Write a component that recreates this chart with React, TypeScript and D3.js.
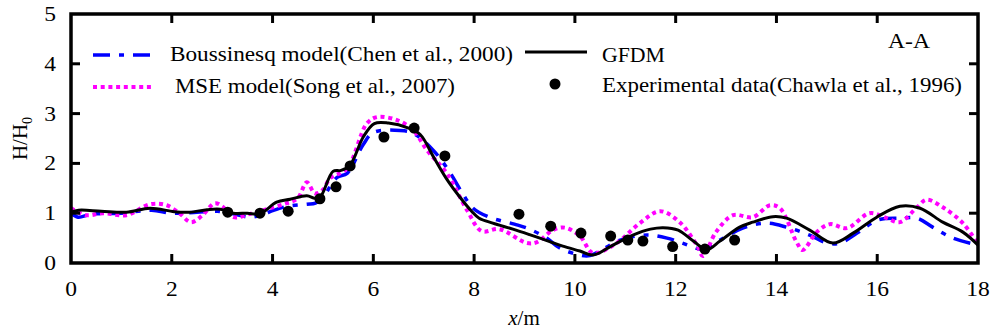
import React from "react";
import * as d3 from "d3";

const xTicks = [0, 2, 4, 6, 8, 10, 12, 14, 16, 18];
const yTicks = [0, 1, 2, 3, 4, 5];

const gfdm: [number, number][] = [
  [0, 1.02], [0.15, 1.06], [0.6, 1.04], [1.1, 1.02], [1.57, 1.1], [2.05, 1.03], [2.35, 1.02],
  [2.7, 1.07], [2.96, 1.08], [3.22, 1.0], [3.5, 1.0], [3.75, 0.99], [4.08, 1.22], [4.35, 1.28],
  [4.68, 1.35], [4.84, 1.3], [4.95, 1.33], [5.2, 1.84], [5.36, 1.86], [5.54, 1.97], [5.8, 2.53],
  [6.02, 2.8], [6.3, 2.81], [6.7, 2.71], [6.93, 2.58], [7.2, 2.12], [7.46, 1.68], [7.72, 1.32],
  [7.95, 1.04], [8.1, 0.9], [8.37, 0.8], [8.77, 0.68], [9.1, 0.57], [9.5, 0.43], [9.76, 0.34],
  [10.1, 0.24], [10.36, 0.16], [10.72, 0.34], [11.15, 0.56], [11.5, 0.68], [11.75, 0.71],
  [12.05, 0.66], [12.35, 0.44], [12.62, 0.27], [12.88, 0.44], [13.27, 0.72], [13.53, 0.82],
  [13.93, 0.93], [14.2, 0.9], [14.66, 0.66], [15.12, 0.4], [15.52, 0.6], [15.99, 0.92],
  [16.45, 1.14], [16.85, 1.1], [17.3, 0.82], [17.7, 0.62], [18, 0.36],
];

const boussinesq: [number, number][] = [
  [0, 1.0], [0.14, 0.92], [0.4, 0.98], [1.0, 1.0], [1.6, 1.06], [2.0, 1.0], [2.5, 1.02],
  [2.9, 1.04], [3.3, 0.97], [3.55, 0.92], [3.8, 0.97], [4.0, 1.05], [4.3, 1.14], [4.68, 1.18],
  [4.85, 1.2], [5.0, 1.32], [5.28, 1.72], [5.48, 1.8], [5.8, 2.38], [6.0, 2.62], [6.53, 2.66],
  [6.8, 2.6], [7.2, 2.25], [7.5, 1.85], [7.78, 1.38], [7.98, 1.1], [8.3, 0.92], [8.8, 0.78],
  [9.1, 0.68], [9.44, 0.5], [9.7, 0.3], [10.1, 0.16], [10.3, 0.15], [10.9, 0.46], [11.43, 0.56],
  [11.83, 0.5], [12.35, 0.32], [12.5, 0.28], [12.88, 0.46], [13.33, 0.7], [13.8, 0.8],
  [14.2, 0.72], [14.66, 0.56], [15.0, 0.4], [15.26, 0.4], [15.6, 0.6], [16.0, 0.86],
  [16.45, 0.9], [16.79, 0.9], [17.1, 0.72], [17.5, 0.5], [18, 0.36],
];

const mse: [number, number][] = [
  [0, 1.1], [0.3, 0.96], [0.64, 1.0], [1.1, 0.96], [1.57, 1.18], [1.9, 1.16], [2.15, 1.0],
  [2.38, 0.82], [2.6, 0.95], [2.85, 1.2], [3.0, 1.14], [3.22, 0.92], [3.6, 1.0], [3.95, 1.1],
  [4.28, 1.2], [4.5, 1.3], [4.68, 1.62], [4.84, 1.4], [5.0, 1.47], [5.14, 1.7], [5.48, 1.9],
  [5.87, 2.8], [6.07, 2.93], [6.47, 2.87], [6.79, 2.67], [7.06, 2.27], [7.46, 1.8], [7.86, 1.06],
  [8.15, 0.64], [8.5, 0.68], [9.05, 0.4], [9.25, 0.42], [9.56, 0.66], [9.8, 0.71], [10.1, 0.54],
  [10.36, 0.2], [10.8, 0.38], [11.29, 0.8], [11.69, 1.04], [12.08, 0.82], [12.42, 0.36],
  [12.54, 0.14], [12.8, 0.62], [13.14, 0.96], [13.53, 0.92], [13.87, 1.16], [14.07, 1.1],
  [14.4, 0.42], [14.52, 0.26], [14.8, 0.62], [15.06, 0.78], [15.4, 0.7], [15.85, 1.0],
  [16.19, 0.9], [16.45, 0.82], [16.79, 1.12], [16.98, 1.27], [17.3, 1.12], [17.7, 0.8], [18, 0.38],
];

const experiment: [number, number][] = [
  [3.11, 1.02], [3.75, 1.0], [4.31, 1.04], [4.94, 1.29], [5.26, 1.53], [5.54, 1.95],
  [6.21, 2.53], [6.81, 2.71], [7.42, 2.15], [8.89, 0.98], [9.52, 0.74], [10.12, 0.6],
  [10.71, 0.54], [11.05, 0.46], [11.35, 0.44], [11.94, 0.33], [12.58, 0.28], [13.17, 0.46],
];

const FONT = "'Liberation Serif', 'Times New Roman', serif";

export default function App() {
  const W = 993, H = 332;
  const L = 71, R = 978, T = 14, B = 263;
  const x = d3.scaleLinear().domain([0, 18]).range([L, R]);
  const y = d3.scaleLinear().domain([0, 5]).range([B, T]);
  const line = d3.line<[number, number]>().x(d => x(d[0])).y(d => y(d[1])).curve(d3.curveCatmullRom.alpha(0.5));
  const tickLen = 9;
  const sx = 1.12;

  return (
    <svg width={W} height={H} style={{ position: "absolute", left: 0, top: 0, background: "#fff" }} fontFamily={FONT}>
      <rect x={0} y={0} width={W} height={H} fill="#fff" />
      {/* curves */}
      <path d={line(boussinesq) || ""} fill="none" stroke="#0000ff" strokeWidth={3.5} strokeDasharray="17,9,5,9" />
      <path d={line(mse) || ""} fill="none" stroke="#ff00ff" strokeWidth={4} strokeDasharray="4,3.7" />
      <path d={line(gfdm) || ""} fill="none" stroke="#000" strokeWidth={3} />
      {experiment.map((d, i) => (
        <circle key={i} cx={x(d[0])} cy={y(d[1])} r={5.5} fill="#000" />
      ))}
      {/* frame */}
      <rect x={L} y={T} width={R - L} height={B - T} fill="none" stroke="#000" strokeWidth={3.5} />
      {xTicks.slice(1, -1).map(t => (
        <g key={"xt" + t}>
          <line x1={x(t)} x2={x(t)} y1={B} y2={B - tickLen} stroke="#000" strokeWidth={3} />
          <line x1={x(t)} x2={x(t)} y1={T} y2={T + tickLen} stroke="#000" strokeWidth={3} />
        </g>
      ))}
      {yTicks.slice(1, -1).map(t => (
        <g key={"yt" + t}>
          <line x1={L} x2={L + tickLen} y1={y(t)} y2={y(t)} stroke="#000" strokeWidth={3} />
          <line x1={R} x2={R - tickLen} y1={y(t)} y2={y(t)} stroke="#000" strokeWidth={3} />
        </g>
      ))}
      {xTicks.map(t => (
        <text key={"xl" + t} transform={`translate(${x(t)},${296}) scale(${sx},1)`} textAnchor="middle" fontSize={21} fill="#000">{t}</text>
      ))}
      {yTicks.map(t => (
        <text key={"yl" + t} transform={`translate(${56},${y(t) + 7}) scale(${sx},1)`} textAnchor="end" fontSize={21} fill="#000">{t}</text>
      ))}
      {/* axis labels */}
      <text x={524} y={325} textAnchor="middle" fontSize={21} fill="#000">
        <tspan fontStyle="italic">x</tspan>/m
      </text>
      <text transform={`translate(27,${y(2.5)}) rotate(-90)`} textAnchor="middle" fontSize={21} fill="#000">
        H/H<tspan fontSize={14} dy={5}>0</tspan>
      </text>
      {/* legend */}
      <line x1={93} x2={153} y1={55} y2={55} stroke="#0000ff" strokeWidth={3.5} strokeDasharray="17,9,5,9" />
      <text x={170} y={61} fontSize={21.5} textLength={343} lengthAdjust="spacingAndGlyphs" fill="#000">Boussinesq model(Chen et al., 2000)</text>
      <line x1={93} x2={153} y1={87} y2={87} stroke="#ff00ff" strokeWidth={4} strokeDasharray="4,3.7" />
      <text x={175} y={93} fontSize={21.5} textLength={280} lengthAdjust="spacingAndGlyphs" fill="#000">MSE model(Song et al., 2007)</text>
      <line x1={525} x2={587} y1={52} y2={52} stroke="#000" strokeWidth={3} />
      <text x={602} y={62} fontSize={21.5} textLength={63} lengthAdjust="spacingAndGlyphs" fill="#000">GFDM</text>
      <circle cx={555} cy={84} r={5.5} fill="#000" />
      <text x={602} y={92} fontSize={21.5} textLength={360} lengthAdjust="spacingAndGlyphs" fill="#000">Experimental data(Chawla et al., 1996)</text>
      <text x={888} y={48} fontSize={21.5} textLength={42} lengthAdjust="spacingAndGlyphs" fill="#000">A-A</text>
    </svg>
  );
}
